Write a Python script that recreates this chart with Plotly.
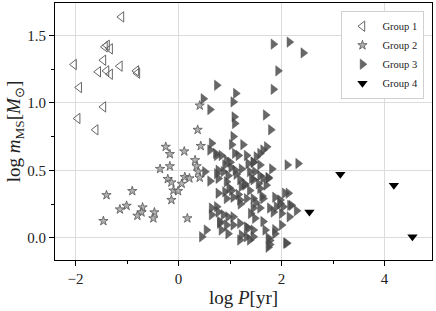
import plotly.graph_objects as go

# Group 1 (open left triangles)
g1_x = [-1.11, -1.43, -1.39, -1.33, -1.46, -2.03, -1.14, -1.56, -1.40, -1.33, -0.82, -0.80, -1.93, -1.46, -1.96, -1.61]
g1_y = [1.637, 1.415, 1.427, 1.40, 1.316, 1.284, 1.272, 1.23, 1.237, 1.212, 1.237, 1.22, 1.114, 0.97, 0.884, 0.80]

# Group 2 (stars)
g2_x = [0.41, 0.37, 0.43, -0.25, -0.17, 0.11, -0.17, -0.36, 0.32, 0.35, 0.38, 0.12, 0.21, 0.41,
        -0.21, -0.14, 0.06, -0.10, -0.01, -0.14, -0.90, -1.40, -1.01, -1.14, -0.70, -0.72, -0.80,
        -0.47, -0.49, 0.17, -1.46]
g2_y = [0.98, 0.80, 0.68, 0.674, 0.62, 0.64, 0.53, 0.51, 0.575, 0.53, 0.49, 0.45, 0.44, 0.445,
        0.435, 0.41, 0.40, 0.35, 0.346, 0.28, 0.346, 0.316, 0.237, 0.21, 0.225, 0.188, 0.163,
        0.188, 0.144, 0.144, 0.124]

# Group 3 (filled right triangles)
g3_x = [0.74, 0.48, 1.11, 1.06, 1.84, 2.15, 2.42, 1.93, 1.84, 0.61, 1.69, 1.79, 1.08, 1.09,
        1.06, 1.25, 0.64, 1.03, 0.74, 0.61, 0.72, 0.83, 1.09, 1.16, 1.32, 0.93, 0.90, 1.00,
        1.35, 1.22, 1.45, 0.77, 0.87, 0.96, 0.51, 1.38, 1.71, 1.64, 1.58, 1.51, 1.45, 1.58,
        2.11, 2.32, 1.81, 1.48, 1.58, 1.74, 2.13, 2.29, 2.16, 1.87, 1.97, 2.15, 1.77, 2.08,
        1.74, 2.00, 1.87, 2.06, 2.19, 2.10, 1.77, 1.74, 1.87, 1.68, 1.45, 1.48, 1.64, 1.77,
        1.84, 2.00, 2.03, 1.90, 1.58, 1.45, 1.64, 1.58, 1.64, 1.45, 1.74, 1.97, 0.61, 0.77,
        0.93, 1.19, 1.29, 1.38, 0.77, 0.90, 1.03, 0.93, 1.06, 1.16, 1.32, 1.19, 0.64, 0.74,
        0.77, 0.87, 0.96, 1.06, 0.80, 0.93, 1.06, 1.19, 1.32, 0.83, 0.96, 0.54, 0.45, 1.22,
        1.32, 1.19, 1.38, 1.45, 1.35, 1.45, 1.22, 1.42, 0.64, 0.74, 0.80, 1.02, 1.12, 1.28,
        1.55, 1.62, 1.50, 1.20, 1.10, 0.98, 1.40, 1.70]
g3_y = [1.13, 1.03, 1.07, 1.007, 1.435, 1.45, 1.37, 1.237, 1.10, 0.95, 0.91, 0.80, 0.896, 0.847,
        0.75, 0.69, 0.70, 0.69, 0.61, 0.65, 0.625, 0.61, 0.625, 0.61, 0.61, 0.575, 0.54, 0.56,
        0.55, 0.51, 0.56, 0.50, 0.49, 0.46, 0.49, 0.49, 0.674, 0.65, 0.625, 0.60, 0.56, 0.54,
        0.54, 0.55, 0.51, 0.49, 0.46, 0.447, 0.33, 0.20, 0.24, 0.30, 0.28, 0.155, -0.02, -0.04,
        -0.07, 0.094, 0.06, 0.33, 0.24, -0.04, -0.05, 0.0, 0.03, 0.057, 0.057, 0.144, 0.12, 0.22,
        0.19, 0.18, 0.23, 0.23, 0.22, 0.29, 0.29, 0.365, 0.44, 0.43, 0.44, 0.255, 0.42, 0.44,
        0.415, 0.43, 0.39, 0.35, 0.33, 0.34, 0.35, 0.29, 0.30, 0.32, 0.29, 0.28, 0.22, 0.23,
        0.19, 0.17, 0.155, 0.155, 0.107, 0.094, 0.094, 0.107, 0.08, 0.057, 0.03, 0.057, 0.007, 0.02,
        0.007, -0.017, -0.017, 0.007, 0.07, 0.22, 0.38, 0.44, 0.17, 0.475, 0.12, 0.52, 0.47, 0.40,
        0.40, 0.31, 0.26, 0.25, 0.50, 0.37, 0.18, 0.39]

# Group 4 (black down triangles)
g4_x = [3.14, 4.18, 2.54, 4.54]
g4_y = [0.47, 0.39, 0.19, 0.007]

names = ["Group 1", "Group 2", "Group 3", "Group 4"]

FONT = "Liberation Serif"

fig = go.Figure()
fig.add_trace(go.Scatter(x=g1_x, y=g1_y, mode="markers", name=names[0],
                         marker=dict(symbol="triangle-left-open", size=9, color="#666666",
                                     line=dict(width=1, color="#666666"))))
fig.add_trace(go.Scatter(x=g2_x, y=g2_y, mode="markers", name=names[1],
                         marker=dict(symbol="star", size=7, color="#b0b0b0",
                                     line=dict(width=0.8, color="#555555"))))
fig.add_trace(go.Scatter(x=g3_x, y=g3_y, mode="markers", name=names[2],
                         marker=dict(symbol="triangle-right", size=9, color="#4d4d4d",
                                     opacity=0.85, line=dict(width=0.5, color="#3a3a3a"))))
fig.add_trace(go.Scatter(x=g4_x, y=g4_y, mode="markers", name=names[3],
                         marker=dict(symbol="triangle-down", size=9, color="#000000")))

axis_common = dict(showline=True, linecolor="black", linewidth=1.2, mirror=True,
                   ticks="outside", ticklen=5, tickcolor="black", showgrid=True,
                   gridcolor="#dcdcdc", gridwidth=1, zeroline=False, automargin=False,
                   tickfont=dict(family=FONT, size=15, color="#222"))

fig.update_layout(
    width=436, height=311,
    margin=dict(l=55, r=4, t=3, b=51),
    paper_bgcolor="white", plot_bgcolor="white",
    font=dict(family=FONT, color="#222"),
    showlegend=True,
    legend=dict(x=0.98, y=0.97, xanchor="right", yanchor="top",
                bgcolor="white", bordercolor="#d0d0d0", borderwidth=1,
                font=dict(family=FONT, size=10.5), tracegroupgap=0),
    xaxis=dict(range=[-2.4, 4.92], dtick=2, tick0=0,
               minor=dict(dtick=1, ticks="outside", ticklen=3, tickcolor="black", showgrid=False),
               title=dict(text="log <i>P</i>[yr]", font=dict(family=FONT, size=19), standoff=1),
               **axis_common),
    yaxis=dict(range=[-0.165, 1.74], dtick=0.5, tick0=0, tickformat=".1f",
               minor=dict(dtick=0.25, ticks="outside", ticklen=3, tickcolor="black", showgrid=False),
               title=dict(text="log <i>m</i><sub>MS</sub>[<i>M</i><sub>⊙</sub>]",
                          font=dict(family=FONT, size=19), standoff=1),
               **axis_common),
)

fig.write_html("out.html", config={"displayModeBar": False},
               post_script="document.body.style.margin='0';")
